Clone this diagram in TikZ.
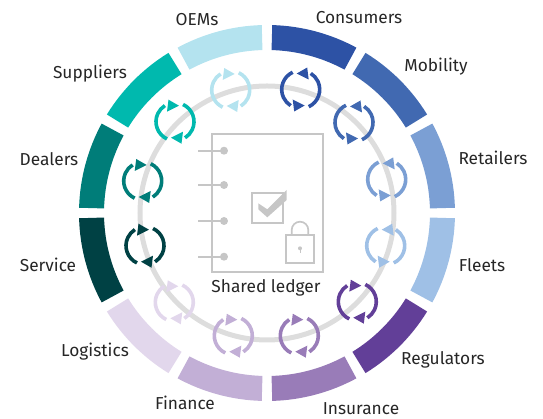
\documentclass[tikz,border=0pt]{standalone}
\usepackage{fontspec}
\setmainfont{Fira Sans}
\definecolor{consumers}{HTML}{2D52A5}
\definecolor{mobility}{HTML}{4169B1}
\definecolor{retailers}{HTML}{7B9FD4}
\definecolor{fleets}{HTML}{9FC0E6}
\definecolor{regulators}{HTML}{623F98}
\definecolor{insurance}{HTML}{997CB8}
\definecolor{finance}{HTML}{C2AFD6}
\definecolor{logistics}{HTML}{E2D7EC}
\definecolor{service}{HTML}{004144}
\definecolor{dealers}{HTML}{007D79}
\definecolor{suppliers}{HTML}{00B9AE}
\definecolor{oems}{HTML}{B4E3EF}
\definecolor{ledger}{HTML}{C6C6C6}
\tikzset{
    label/.style={font=\fontsize{17.3}{20}\selectfont, text=black!85, inner sep=0pt},
    ledgerline/.style={draw=ledger, line width=1.7pt},
    turn/.style={line width=3.6pt}
}
% ring segment: start angle, end angle, colour
\newcommand{\ringpart}[3]{
    \fill[#3] (#1:188) arc[start angle=#1, end angle=#2, radius=188]
    -- (#2:163) arc[start angle=#2, end angle=#1, radius=163] -- cycle;
}
% arrows round a point: position, colour, 1 or -1 for the turning direction
\newcommand{\cyclepair}[3]{
    \begin{scope}[shift={(#1)}, xscale=#3, #2]
        \foreach \r in {0, 180} {
            \begin{scope}[rotate=\r]
                \draw[turn] (-65:19) arc[start angle=-65, end angle=58, radius=19];
                \fill (-4, 16) -- (6.5, 22) -- (8, 10) -- cycle;
            \end{scope}
        }
    \end{scope}
}
\begin{document}
\begin{tikzpicture}[x=1pt, y=1pt]
    \useasboundingbox (-267, -206) rectangle (276, 213);
    \draw[line width=5pt, ledger!60] (0, 0) circle[radius=127];

    \ringpart{88.4}{61.6}{consumers}
    \ringpart{58.4}{31.6}{mobility}
    \ringpart{28.4}{1.6}{retailers}
    \ringpart{-1.6}{-28.4}{fleets}
    \ringpart{-31.6}{-58.4}{regulators}
    \ringpart{-61.6}{-88.4}{insurance}
    \ringpart{-91.6}{-118.4}{finance}
    \ringpart{-121.6}{-148.4}{logistics}
    \ringpart{-151.6}{-178.4}{service}
    \ringpart{178.4}{151.6}{dealers}
    \ringpart{148.4}{121.6}{suppliers}
    \ringpart{118.4}{91.6}{oems}

    \cyclepair{33.7, 123.5}{consumers}{1}
    \cyclepair{87, 90.5}{mobility}{1}
    \cyclepair{119.7, 33.6}{retailers}{1}
    \cyclepair{118.7, -32.7}{fleets}{1}
    \cyclepair{90.3, -88.7}{regulators}{-1}
    \cyclepair{32.3, -122.7}{insurance}{-1}
    \cyclepair{-33.7, -122.7}{finance}{-1}
    \cyclepair{-92.7, -89.3}{logistics}{-1}
    \cyclepair{-122, -32.7}{service}{-1}
    \cyclepair{-124.3, 32}{dealers}{-1}
    \cyclepair{-92, 91.3}{suppliers}{-1}
    \cyclepair{-36.3, 123}{oems}{-1}

    \draw[ledgerline] (-55.3, 78.7) rectangle (56.3, -58.7);
    \foreach \y in {62.3, 28, -8, -43.7} {
        \draw[ledgerline] (-68.7, \y) -- (-43, \y);
        \fill[ledger] (-43, \y) circle[radius=4];
    }
    \draw[ledgerline] (-15.3, 20.3) rectangle (15.7, -10.3);
    \fill[ledger] (-8.7, 9.7) -- (0.3, 3.7) -- (19.7, 23) -- (19.7, 13) -- (0.3, -4.3) -- (-8.7, 3.7) -- cycle;
    \draw[ledgerline] (19, -22) rectangle (47.3, -49.7);
    \draw[ledgerline] (24.7, -22) -- (24.7, -17) arc[start angle=180, end angle=0, radius=8.3] -- (41.3, -22);
    \fill[ledger] (33, -35.3) circle[radius=2];
    \draw[ledger, line width=1pt] (33, -35.3) -- (33, -40);

    \node[label] (ledgertext) at (-1, -74.5) {Shared ledger};
    \node[label] (consumerstext) at (92, 195) {Consumers};
    \node[label] (mobilitytext) at (169, 146) {Mobility};
    \node[label] (retailerstext) at (226, 55) {Retailers};
    \node[label] (fleetstext) at (215, -52) {Fleets};
    \node[label] (regulatorstext) at (176, -147) {Regulators};
    \node[label] (insurancetext) at (94, -196) {Insurance};
    \node[label] (financetext) at (-82, -190) {Finance};
    \node[label] (logisticstext) at (-172, -139) {Logistics};
    \node[label] (servicetext) at (-219, -52) {Service};
    \node[label] (dealerstext) at (-218, 54) {Dealers};
    \node[label] (supplierstext) at (-177, 139) {Suppliers};
    \node[label] (oemstext) at (-70, 193) {OEMs};
\end{tikzpicture}
\end{document}
